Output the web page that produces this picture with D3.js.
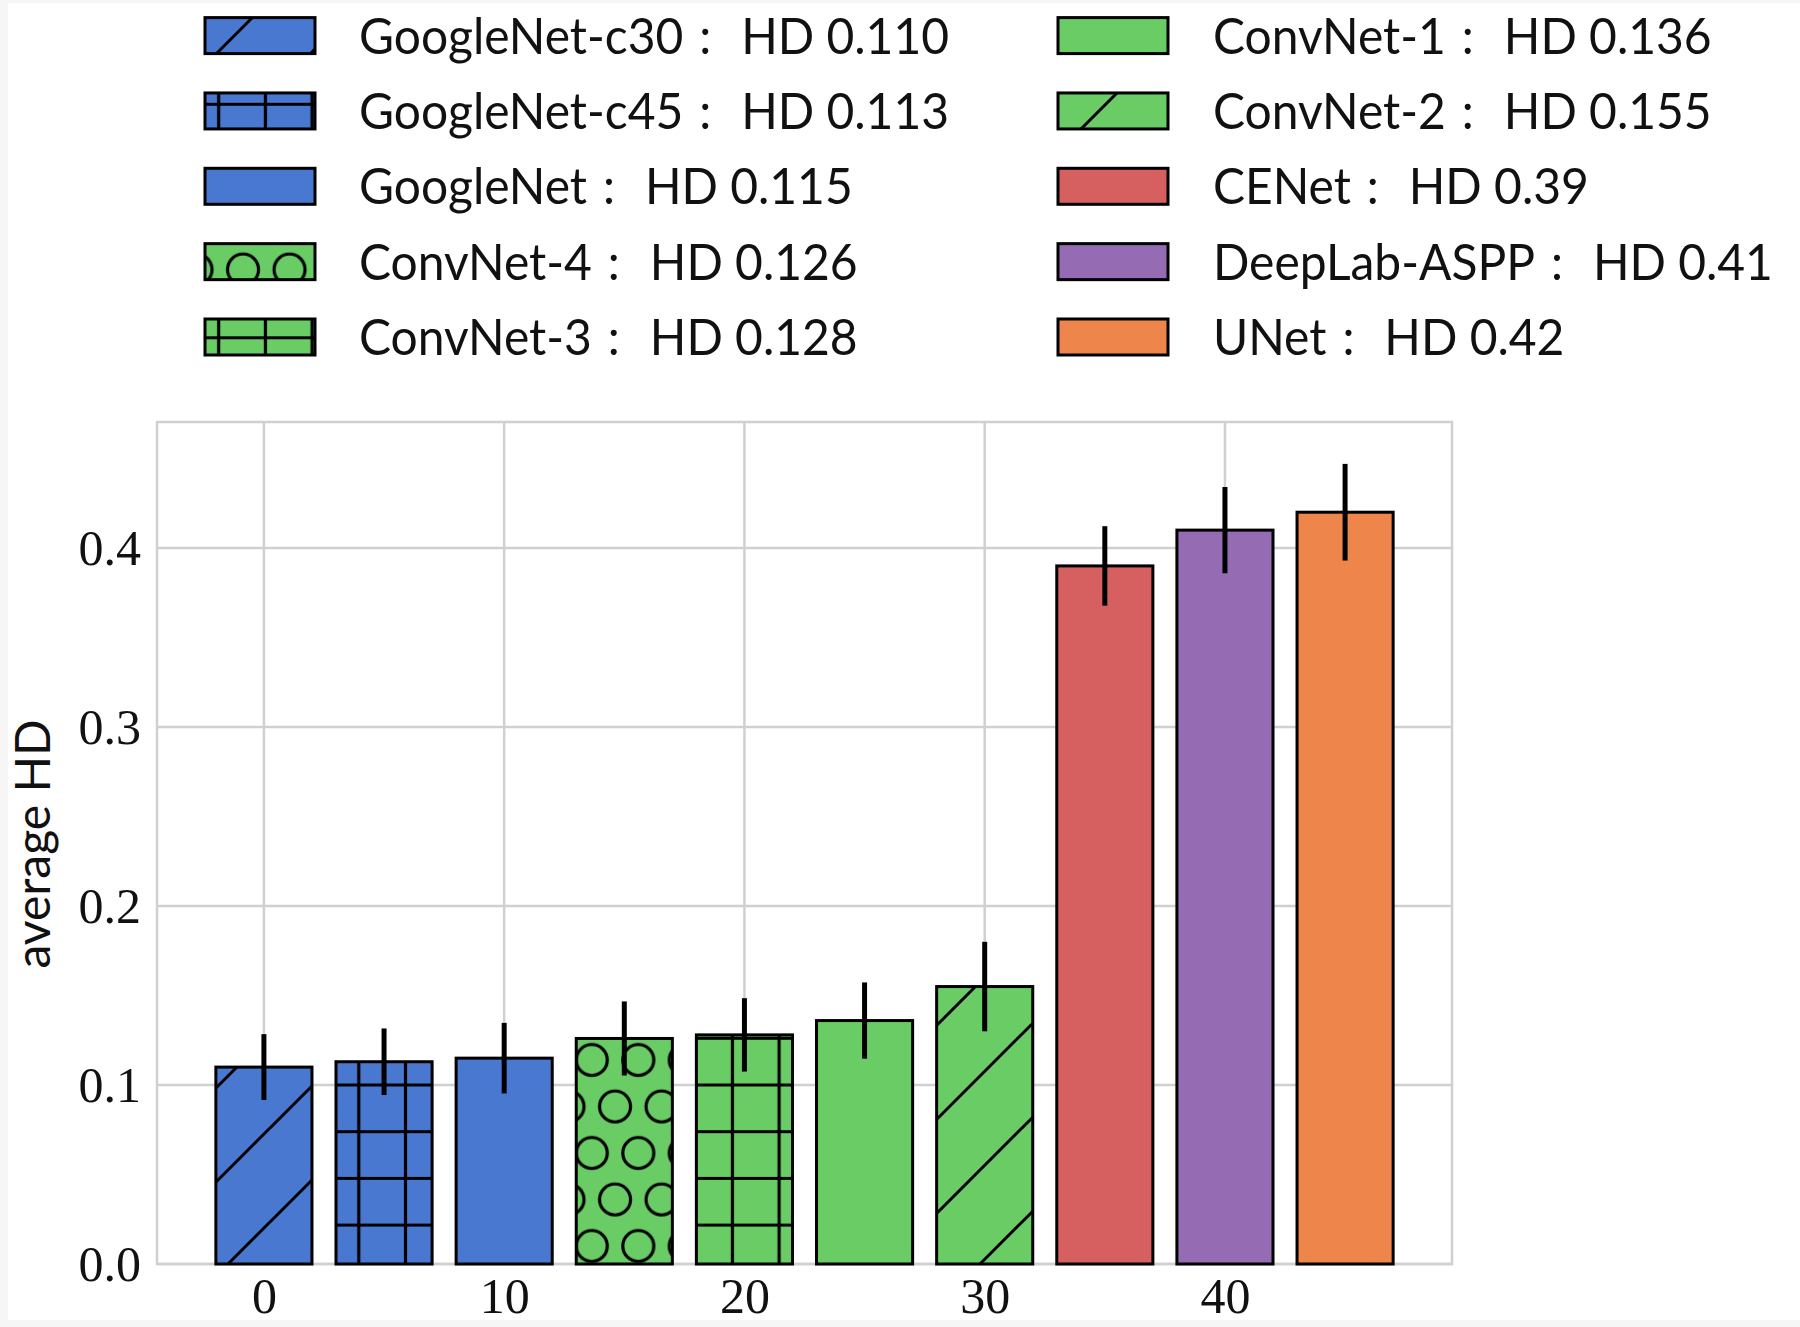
<!DOCTYPE html>
<html><head><meta charset="utf-8">
<script src="https://cdn.jsdelivr.net/npm/d3@7"></script>
<style>html,body{margin:0;padding:0;background:#fff;}svg{display:block;}</style>
</head><body>
<svg id="chart" width="1800" height="1327"></svg>
<script>
// ---- data ----
const models = ["GoogleNet-c30","GoogleNet-c45","GoogleNet","ConvNet-4","ConvNet-3","ConvNet-1","ConvNet-2","CENet","DeepLab-ASPP","UNet"];
const hdLabels = ["0.110","0.113","0.115","0.126","0.128","0.136","0.155","0.39","0.41","0.42"];
const positions = [0,5,10,15,20,25,30,35,40,45];
const values = [0.110,0.113,0.115,0.126,0.128,0.136,0.155,0.39,0.41,0.42];
const errors = [0.0184,0.0186,0.0197,0.0207,0.0205,0.0213,0.025,0.0222,0.0241,0.027];
const colors = ["#4878d0","#4878d0","#4878d0","#6acc64","#6acc64","#6acc64","#6acc64","#d65f5f","#956cb4","#ee854a"];
const hatches = ["diag","grid",null,"circ","grid",null,"diag",null,null,null];
const xTicks = [0,10,20,30,40];
const yTicks = [0.0,0.1,0.2,0.3,0.4];
const barWidth = 4;

// ---- layout ----
const svg = d3.select("#chart");
const L = 157, R = 1452, T = 422, B = 1264;
const x = d3.scaleLinear().domain([-4.45, 49.45]).range([L, R]);
const y = d3.scaleLinear().domain([0, 0.4704]).range([B, T]);
const gridColor = "#d0d0d0";

// screenshot-like faint border
svg.append("rect").attr("width",1800).attr("height",1327).attr("fill","#f6f6f6");
svg.append("rect").attr("x",8).attr("y",3).attr("width",1792).attr("height",1317).attr("fill","#fff");

// ---- patterns (anchored to canvas like matplotlib hatches) ----
const defs = svg.append("defs");
const dp = 94;
const pd = defs.append("pattern").attr("id","diag").attr("patternUnits","userSpaceOnUse")
  .attr("width",dp).attr("height",dp).attr("x",82).attr("y",0);
pd.append("path").attr("d",`M0,${dp} L${dp},0 M-10,10 L10,-10 M${dp-10},${dp+10} L${dp+10},${dp-10}`)
  .attr("stroke","#000").attr("stroke-width",3).attr("fill","none");

const gp = 46.7;
const pg = defs.append("pattern").attr("id","grid").attr("patternUnits","userSpaceOnUse")
  .attr("width",gp).attr("height",gp).attr("x",8.55).attr("y",10.9-gp/2);
pg.append("path").attr("d",`M${gp/2},0 V${gp} M0,${gp/2} H${gp}`)
  .attr("stroke","#000").attr("stroke-width",3.2).attr("fill","none");

const cw = 46.5, ch = 93, cr = 15.5;
const pc = defs.append("pattern").attr("id","circ").attr("patternUnits","userSpaceOnUse")
  .attr("width",cw).attr("height",ch).attr("x",10.55).attr("y",13.75);
[[cw/2,cw/2],[0,cw/2+ch/2],[cw,cw/2+ch/2],[cw/2,cw/2+ch],[cw/2,cw/2-ch],[0,cw/2-ch/2],[cw,cw/2-ch/2]].forEach(([cx,cy])=>{
  pc.append("circle").attr("cx",cx).attr("cy",cy).attr("r",cr)
    .attr("stroke","#000").attr("stroke-width",3.2).attr("fill","none");
});

// ---- grid ----
const g = svg.append("g");
g.selectAll("line.hg").data(yTicks).join("line")
  .attr("x1",L).attr("x2",R).attr("y1",d=>y(d)).attr("y2",d=>y(d))
  .attr("stroke",gridColor).attr("stroke-width",2.5);
g.selectAll("line.vg").data(xTicks).join("line")
  .attr("x1",d=>x(d)).attr("x2",d=>x(d)).attr("y1",T).attr("y2",B)
  .attr("stroke",gridColor).attr("stroke-width",2.5);
g.append("rect").attr("x",L).attr("y",T).attr("width",R-L).attr("height",B-T)
  .attr("fill","none").attr("stroke",gridColor).attr("stroke-width",2.5);

// ---- bars ----
const bars = svg.append("g");
const bw = x(barWidth) - x(0);
models.forEach((m,i)=>{
  const bx = x(positions[i]) - bw/2, by = y(values[i]), bh = y(0) - y(values[i]);
  bars.append("rect").attr("x",bx).attr("y",by).attr("width",bw).attr("height",bh).attr("fill",colors[i]);
  if (hatches[i]) bars.append("rect").attr("x",bx).attr("y",by).attr("width",bw).attr("height",bh).attr("fill",`url(#${hatches[i]})`);
  bars.append("rect").attr("x",bx).attr("y",by).attr("width",bw).attr("height",bh)
    .attr("fill","none").attr("stroke","#000").attr("stroke-width",3);
});
// error bars
svg.append("g").selectAll("line").data(models).join("line")
  .attr("x1",(d,i)=>x(positions[i])).attr("x2",(d,i)=>x(positions[i]))
  .attr("y1",(d,i)=>y(values[i]-errors[i])).attr("y2",(d,i)=>y(values[i]+errors[i]))
  .attr("stroke","#000").attr("stroke-width",5);

// ---- axes ----
const tickFont = "'Liberation Serif', 'DejaVu Serif', serif";
const xAxis = svg.append("g").attr("transform",`translate(0,${B})`)
  .call(d3.axisBottom(x).tickValues(xTicks).tickSize(0).tickPadding(13).tickFormat(d3.format("d")));
xAxis.select(".domain").remove();
xAxis.selectAll("text").attr("font-family",tickFont).attr("font-size",50).attr("fill","#111");
const yAxis = svg.append("g").attr("transform",`translate(${L},0)`)
  .call(d3.axisLeft(y).tickValues(yTicks).tickSize(0).tickPadding(16).tickFormat(d3.format(".1f")));
yAxis.select(".domain").remove();
yAxis.selectAll("text").attr("font-family",tickFont).attr("font-size",50).attr("fill","#111");

svg.append("text").attr("transform","translate(50,844) rotate(-90)")
  .attr("text-anchor","middle").attr("font-family","Lato, 'Open Sans', sans-serif")
  .attr("font-size",48).attr("fill","#111").text("average HD");

// ---- legend ----
const sansFont = "Lato, 'Open Sans', sans-serif";
const leg = svg.append("g");
const colX = [205, 1058], textX = [359, 1213], rowY0 = 35.6, rowStep = 75.35, boxW = 110, boxH = 36;
const texts = [];
models.forEach((m,i)=>{
  const c = Math.floor(i/5), r = i%5;
  const cy = rowY0 + r*rowStep;
  const bx = colX[c], by = cy - boxH/2;
  leg.append("rect").attr("x",bx).attr("y",by).attr("width",boxW).attr("height",boxH).attr("fill",colors[i]);
  if (hatches[i]) leg.append("rect").attr("x",bx).attr("y",by).attr("width",boxW).attr("height",boxH).attr("fill",`url(#${hatches[i]})`);
  leg.append("rect").attr("x",bx).attr("y",by).attr("width",boxW).attr("height",boxH)
    .attr("fill","none").attr("stroke","#000").attr("stroke-width",3);
  const t = leg.append("text").attr("x",textX[c]).attr("y",cy+18)
    .attr("font-family",sansFont).attr("font-size",50).attr("fill","#111")
    .attr("xml:space","preserve").style("white-space","pre")
    .text(`${m}\u2004:\u2002\u2009HD ${hdLabels[i]}`);
  texts.push(t);
});
// fit legend text widths to the reference's narrow sans font
const w0 = texts[0].node().getComputedTextLength();
const k = 590 / w0;
texts.forEach(t=>{
  const w = t.node().getComputedTextLength();
  t.attr("textLength", w*k).attr("lengthAdjust","spacingAndGlyphs");
});
</script>
</body></html>
